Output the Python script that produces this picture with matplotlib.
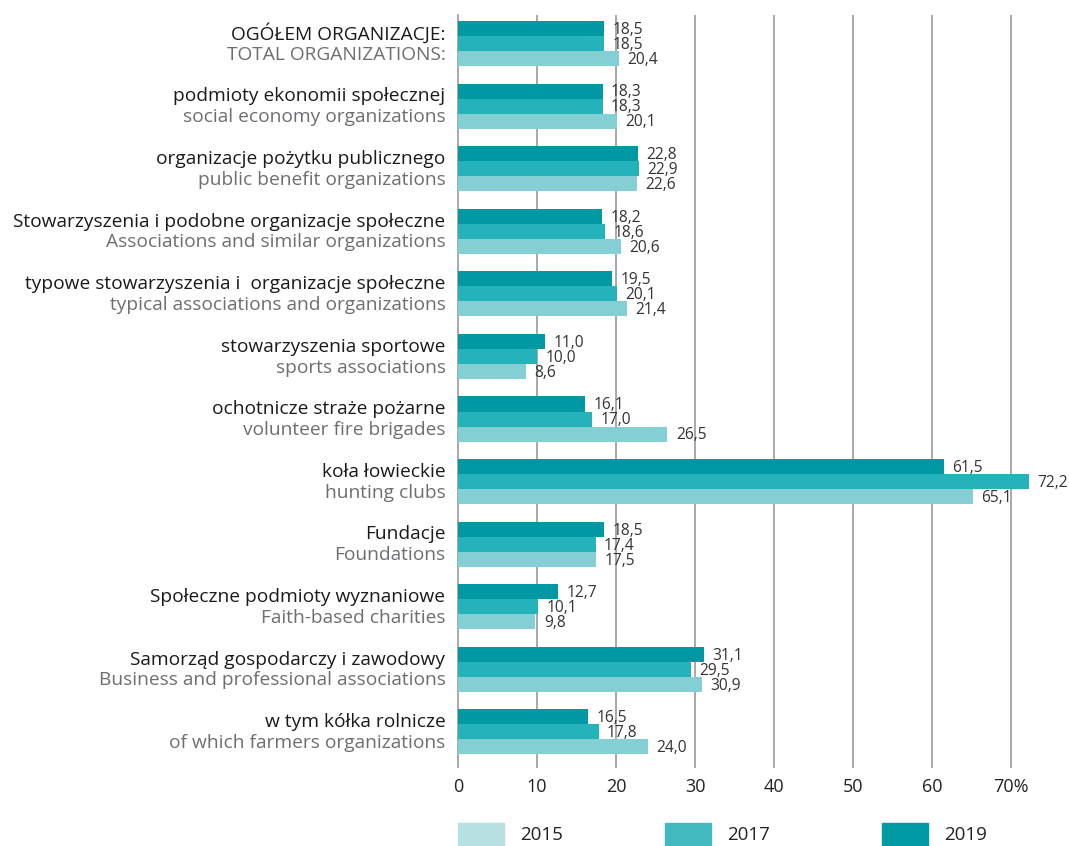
import matplotlib
matplotlib.use("Agg")
import matplotlib.pyplot as plt
from matplotlib.patches import Rectangle
import numpy as np

labels_pl = [
    "OGÓŁEM ORGANIZACJE:",
    "podmioty ekonomii społecznej",
    "organizacje pożytku publicznego",
    "Stowarzyszenia i podobne organizacje społeczne",
    "typowe stowarzyszenia i  organizacje społeczne",
    "stowarzyszenia sportowe",
    "ochotnicze straże pożarne",
    "koła łowieckie",
    "Fundacje",
    "Społeczne podmioty wyznaniowe",
    "Samorząd gospodarczy i zawodowy",
    "w tym kółka rolnicze",
]
labels_en = [
    "TOTAL ORGANIZATIONS:",
    "social economy organizations",
    "public benefit organizations",
    "Associations and similar organizations",
    "typical associations and organizations",
    "sports associations",
    "volunteer fire brigades",
    "hunting clubs",
    "Foundations",
    "Faith-based charities",
    "Business and professional associations",
    "of which farmers organizations",
]
v2019 = [18.5, 18.3, 22.8, 18.2, 19.5, 11.0, 16.1, 61.5, 18.5, 12.7, 31.1, 16.5]
v2017 = [18.5, 18.3, 22.9, 18.6, 20.1, 10.0, 17.0, 72.2, 17.4, 10.1, 29.5, 17.8]
v2015 = [20.4, 20.1, 22.6, 20.6, 21.4, 8.6, 26.5, 65.1, 17.5, 9.8, 30.9, 24.0]
years = ["2015", "2017", "2019"]
xticks = [0, 10, 20, 30, 40, 50, 60, 70]
xticklabels = ["0", "10", "20", "30", "40", "50", "60", "70%"]

FONT = ["Open Sans", "DejaVu Sans"]
plt.rcParams["font.family"] = FONT

c19, c17, c15 = "#0099a3", "#25b3bb", "#84cfd4"
leg_cols = ["#b8e0e3", "#40b9c1", "#009aa5"]
txt_dark = "#1a1a1a"
txt_gray = "#6d6e71"
grid_col = "#9a9a9a"

W, H = 1069, 846
fig = plt.figure(figsize=(W / 100, H / 100), dpi=100)
ax = fig.add_axes([458 / W, 1 - 757 / H, (1031 - 458) / W, (757 - 15) / H])

n = len(labels_pl)
y = np.arange(n)
bh = 0.24
series = [(v2019, c19, -bh), (v2017, c17, 0.0), (v2015, c15, bh)]
for vals, col, off in series:
    ax.barh(y + off, vals, height=bh, color=col, zorder=3)
    for yy, v in zip(y + off, vals):
        ax.annotate(f"{v:.1f}".replace(".", ","), (v, yy), xytext=(6, -1),
                    textcoords="offset points", va="center", ha="left",
                    fontsize=11.2, color="#333333", zorder=4)

ax.set_xlim(0, 72.5)
ax.set_ylim(11.4, -0.455)
ax.set_xticks(xticks)
ax.set_xticklabels(xticklabels, fontsize=13, color="#222222")
ax.tick_params(axis="x", length=8, width=1.2, color=grid_col, pad=7)
ax.set_yticks([])
for s in ["top", "right", "bottom"]:
    ax.spines[s].set_visible(False)
ax.spines["left"].set_color(grid_col)
ax.spines["left"].set_linewidth(1.2)
for x in xticks[1:]:
    ax.axvline(x, color=grid_col, lw=1.2, zorder=1)

for yi, (pl, en) in enumerate(zip(labels_pl, labels_en)):
    ax.annotate(pl, (0, yi), xytext=(-9, 7), textcoords="offset points",
                ha="right", va="center", fontsize=13.8, color=txt_dark)
    ax.annotate(en, (0, yi), xytext=(-9, -8), textcoords="offset points",
                ha="right", va="center", fontsize=13.8, color=txt_gray)

# legend
leg_x = [458, 665, 882]
for lx, col, yr in zip(leg_x, leg_cols, years):
    fig.patches.append(Rectangle((lx / W, 0), 46 / W, 23 / H, transform=fig.transFigure,
                                 color=col, clip_on=False))
    fig.text((lx + 62) / W, 1 - 835 / H, yr, fontsize=13.5, color="#222222",
             ha="left", va="center")

fig.savefig("out.png", dpi=100, facecolor="white")
